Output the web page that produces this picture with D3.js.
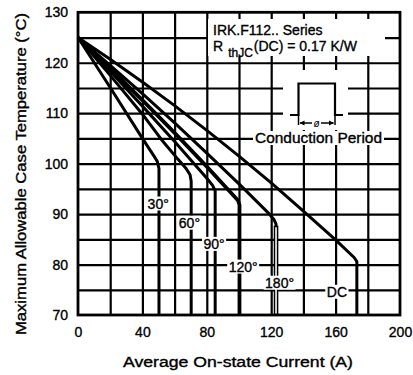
<!DOCTYPE html>
<html>
<head>
<meta charset="utf-8">
<script src="https://cdn.jsdelivr.net/npm/d3@7"></script>
<style>
  body { margin: 0; background: #fff; }
  svg { display: block; font-family: "Liberation Sans", Arial, Helvetica, sans-serif; }
  .lbl { font-size: 14px; fill: #000; stroke: #000; stroke-width: 0.35px; }
</style>
</head>
<body>
<svg id="chart" width="413" height="375"></svg>
<script>
// Axis ticks
var xTicks = [0, 40, 80, 120, 160, 200];
var yTicks = [70, 80, 90, 100, 110, 120, 130];

// Conduction angles and their curves [current (A), case temp (°C)]
var seriesNames = ['30°', '60°', '90°', '120°', '180°', 'DC'];
var curve30 = [[0, 125], [20, 115.1], [40, 105], [47, 101.6], [49.3, 100.4], [50.3, 99], [50.3, 70]];
var curve60 = [[0, 125], [20, 117.5], [40, 109.8], [52, 104.7], [62, 100.9], [67, 99.1], [69.6, 97.8], [70.3, 96.5], [70.3, 70]];
var curve90 = [[0, 125], [20, 118.3], [40, 111.4], [60, 104.4], [80, 97.1], [83.6, 95.7], [85.2, 94.6], [85.2, 70]];
var curve120 = [[0, 125], [20, 118.9], [40, 112.6], [60, 106.1], [80, 99.4], [96, 93.9], [99.4, 92.7], [100.3, 91.8], [100.3, 70]];
var curve180 = [[0, 125], [20, 119.5], [40, 113.9], [60, 108.1], [80, 102.1], [100, 96], [118, 90.3], [121.6, 89], [123, 88], [123, 70]];
var curveDC = [[0, 125], [20, 120.7], [40, 116.2], [60, 111.5], [80, 106.6], [100, 101.5], [120, 96.2], [140, 90.6], [160, 84.9], [171.5, 81.4], [173.2, 80.6], [173.2, 70]];
var curves = [curve30, curve60, curve90, curve120, curve180, curveDC];

var svg = d3.select('#chart');
var plotL = 78, plotR = 400, plotT = 12.3, plotB = 315;

var x = d3.scaleLinear().domain([0, 200]).range([plotL, plotR]);
var y = d3.scaleLinear().domain([70, 130]).range([plotB, plotT]);

// Grid, every 20 A and every 5 °C
svg.append('g')
    .attr('transform', 'translate(0,' + plotB + ')')
    .call(d3.axisBottom(x).tickValues(d3.range(20, 200, 20)).tickSize(-(plotB - plotT)).tickFormat(''))
    .call(function (g) {
        g.select('.domain').remove();
        g.selectAll('line').attr('stroke', '#000').attr('stroke-width', 2.2);
    });

svg.append('g')
    .attr('transform', 'translate(' + plotL + ',0)')
    .call(d3.axisLeft(y).tickValues(d3.range(75, 130, 5)).tickSize(-(plotR - plotL)).tickFormat(''))
    .call(function (g) {
        g.select('.domain').remove();
        g.selectAll('line').attr('stroke', '#000').attr('stroke-width', 2.2);
    });

// Tick labels
svg.append('g')
    .attr('transform', 'translate(0,' + plotB + ')')
    .call(d3.axisBottom(x).tickValues(xTicks).tickSize(0).tickPadding(12))
    .call(function (g) {
        g.select('.domain').remove();
        g.selectAll('text').attr('class', 'lbl');
        g.attr('font-size', null).attr('font-family', null);
    });

svg.append('g')
    .attr('transform', 'translate(' + plotL + ',0)')
    .call(d3.axisLeft(y).tickValues(yTicks).tickSize(0).tickPadding(10))
    .call(function (g) {
        g.select('.domain').remove();
        g.selectAll('text').attr('class', 'lbl');
        g.attr('font-size', null).attr('font-family', null);
    });

// Plot border
svg.append('rect')
    .attr('x', plotL).attr('y', plotT)
    .attr('width', plotR - plotL).attr('height', plotB - plotT)
    .attr('fill', 'none').attr('stroke', '#000').attr('stroke-width', 2.8);

// Curves
var line = d3.line()
    .x(function (d) { return x(d[0]); })
    .y(function (d) { return y(d[1]); });

svg.selectAll('.curve')
    .data(curves)
    .enter().append('path')
    .attr('class', 'curve')
    .attr('d', line)
    .attr('fill', 'none')
    .attr('stroke', '#000')
    .attr('stroke-width', function (d, i) { return i == 3 ? 3.8 : 3; })
    .attr('stroke-linejoin', 'round');

// 180° drop is drawn as a double line in the original
var drop180 = curve180.slice(-2);
svg.append('path')
    .attr('d', line([[drop180[0][0], drop180[0][1] - 0.3], drop180[1]]))
    .attr('stroke', '#000').attr('stroke-width', 4.6);
svg.append('path')
    .attr('d', line([[drop180[0][0], drop180[0][1] - 0.6], [drop180[1][0], drop180[1][1] + 0.3]]))
    .attr('stroke', '#fff').attr('stroke-width', 1.6);

// Angle labels on white boxes
var labelPos = [[49.8, 92.1], [69.2, 88.3], [84.5, 84.1], [102.6, 79.6], [125.2, 76.4], [160.8, 74.6]];
var labels = svg.selectAll('.angle')
    .data(seriesNames)
    .enter().append('g')
    .attr('class', 'angle')
    .attr('transform', function (d, i) { return 'translate(' + x(labelPos[i][0]) + ',' + y(labelPos[i][1]) + ')'; });

labels.append('text')
    .attr('class', 'lbl')
    .attr('text-anchor', 'middle')
    .attr('dy', '0.36em')
    .text(function (d) { return d; })
    .each(function () {
        var b = this.getBBox();
        d3.select(this.parentNode).insert('rect', 'text')
            .attr('x', b.x - 1.5).attr('y', -7)
            .attr('width', b.width + 3).attr('height', 14)
            .attr('fill', '#fff');
    });

// Top-right note
svg.append('rect')
    .attr('x', 208).attr('y', 19).attr('width', 177).attr('height', 37)
    .attr('fill', '#fff');

svg.append('text')
    .attr('class', 'lbl')
    .attr('x', 213).attr('y', 35)
    .text('IRK.F112.. Series');

var rth = svg.append('text')
    .attr('class', 'lbl')
    .attr('x', 213).attr('y', 51);
rth.append('tspan').text('R');
rth.append('tspan').attr('dx', 5).attr('dy', 6).attr('font-size', 12).text('thJC');
rth.append('tspan').attr('dx', 1).attr('dy', -6).text('(DC) = 0.17 K/W');

// Conduction period sketch
svg.append('rect')
    .attr('x', 283).attr('y', 70).attr('width', 65).attr('height', 60)
    .attr('fill', '#fff');

var pulse = [[290, 115], [298.5, 115], [298.5, 83.5], [335, 83.5], [335, 115], [343, 115]];
svg.append('path')
    .attr('d', d3.line()(pulse))
    .attr('fill', 'none').attr('stroke', '#000').attr('stroke-width', 2.2);
svg.append('path')
    .attr('d', d3.line()([[298.5, 115], [298.5, 125]]) + d3.line()([[335, 115], [335, 125]]))
    .attr('stroke', '#000').attr('stroke-width', 1.5);
svg.append('path')
    .attr('d', d3.line()([[300, 123], [333.5, 123]]))
    .attr('stroke', '#000').attr('stroke-width', 1.6);
svg.append('path')
    .attr('d', 'M299.5,123 l5,-2.5 v5 z M334,123 l-5,-2.5 v5 z')
    .attr('fill', '#000');
svg.append('rect')
    .attr('x', 312).attr('y', 117).attr('width', 9).attr('height', 11)
    .attr('fill', '#fff');
svg.append('text')
    .attr('x', 316.5).attr('y', 126.5)
    .attr('text-anchor', 'middle')
    .attr('font-size', 10)
    .attr('font-style', 'italic')
    .text('ø');

svg.append('rect')
    .attr('x', 253).attr('y', 131).attr('width', 131).attr('height', 14)
    .attr('fill', '#fff');
svg.append('text')
    .attr('class', 'lbl')
    .attr('x', 318.5).attr('y', 143)
    .attr('text-anchor', 'middle')
    .attr('textLength', 127)
    .attr('lengthAdjust', 'spacingAndGlyphs')
    .text('Conduction Period');

// Axis titles
svg.append('text')
    .attr('class', 'lbl')
    .attr('x', 238).attr('y', 367)
    .attr('text-anchor', 'middle')
    .attr('textLength', 230)
    .attr('lengthAdjust', 'spacingAndGlyphs')
    .text('Average On-state Current (A)');

svg.append('text')
    .attr('class', 'lbl')
    .attr('transform', 'translate(26,174) rotate(-90)')
    .attr('text-anchor', 'middle')
    .attr('textLength', 322)
    .attr('lengthAdjust', 'spacingAndGlyphs')
    .text('Maximum Allowable Case Temperature (°C)');
</script>
</body>
</html>
